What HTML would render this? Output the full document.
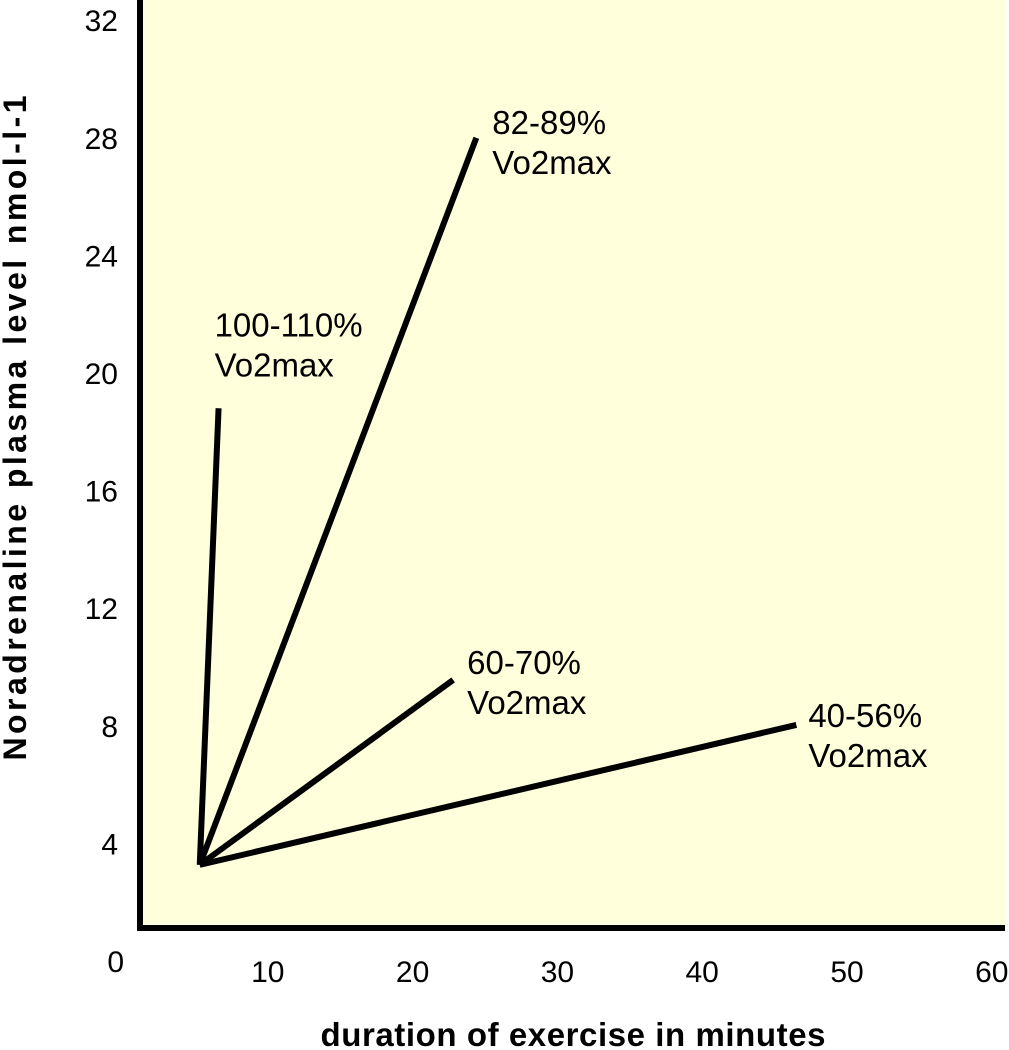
<!DOCTYPE html>
<html><head><meta charset="utf-8"><style>
body{margin:0;background:#fff;}
svg{display:block;font-family:"Liberation Sans",Arial,sans-serif;}
</style></head><body>
<svg id="chart" width="1009" height="1050">
<rect x="140" y="0" width="865" height="928" fill="#ffffdc"/>
<g id="lines"></g>
<line x1="140" y1="0" x2="140" y2="928" stroke="#000" stroke-width="6"/>
<line x1="137" y1="928" x2="1005" y2="928" stroke="#000" stroke-width="6"/>
<g id="yticks" font-size="30" text-anchor="end"></g>
<g id="xticks" font-size="30" text-anchor="middle"></g>
<g id="labels" font-size="33"></g>
<text x="0" y="0" transform="translate(26,428) rotate(-90)" text-anchor="middle" font-size="32" font-weight="bold" textLength="665" lengthAdjust="spacing">Noradrenaline plasma level  nmol-l-1</text>
<text x="573" y="1046" text-anchor="middle" font-size="33" font-weight="bold" textLength="505">duration of exercise in minutes</text>
</svg>
<script>
const seriesNames=["100-110%","82-89%","60-70%","40-56%"];
const startX=[5.3,5.3,5.3,5.3];
const startY=[3.27,3.27,3.27,3.27];
const endX=[6.6,24.4,22.8,46.5];
const endY=[18.8,28.0,9.56,8.03];
const yTicks=[0,4,8,12,16,20,24,28,32];
const xTicks=[10,20,30,40,50,60];
const NS="http://www.w3.org/2000/svg";
function sx(v){return 123+14.48*v;}
function sy(v){return 961-29.4*v;}
const lg=document.getElementById('lines');
const lab=document.getElementById('labels');
const labOff=[[-4,-72],[16,-4],[14,-6],[12,2]];
seriesNames.forEach((n,i)=>{
 const l=document.createElementNS(NS,'line');
 l.setAttribute('x1',sx(startX[i]));l.setAttribute('y1',sy(startY[i]));
 l.setAttribute('x2',sx(endX[i]));l.setAttribute('y2',sy(endY[i]));
 l.setAttribute('stroke','#000');l.setAttribute('stroke-width','6');
 
 
 lg.appendChild(l);
 const t=document.createElementNS(NS,'text');
 const x=sx(endX[i])+labOff[i][0], y=sy(endY[i])+labOff[i][1];
 t.setAttribute('x',x);t.setAttribute('y',y);
 t.innerHTML='<tspan x="'+x+'">'+n+'</tspan><tspan x="'+x+'" dy="40">Vo2max</tspan>';
 
 
 lab.appendChild(t);
});
const yg=document.getElementById('yticks');
yTicks.forEach(v=>{
 const t=document.createElementNS(NS,'text');
 t.setAttribute('x',v===0?124:118);t.setAttribute('y',v===0?972:sy(v)+11);
 t.textContent=v;
 
 
 yg.appendChild(t);
});
const xg=document.getElementById('xticks');
xTicks.forEach(v=>{
 const t=document.createElementNS(NS,'text');
 t.setAttribute('x',sx(v));t.setAttribute('y',982);
 t.textContent=v;
 
 
 xg.appendChild(t);
});
</script>
</body></html>
